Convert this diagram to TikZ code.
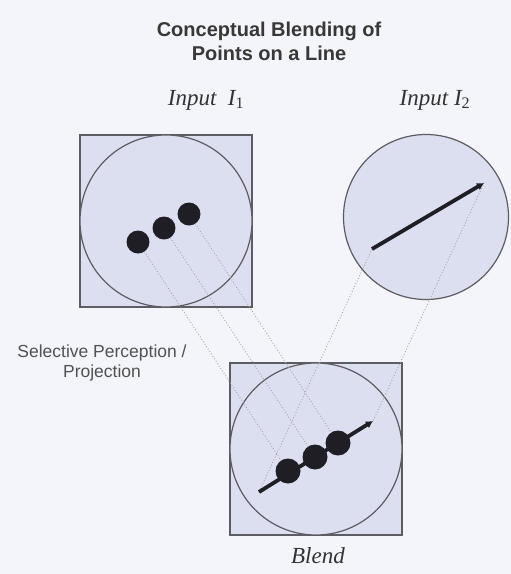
\documentclass[tikz,border=0pt]{standalone}
\usepackage{fontspec}
\setmainfont{Liberation Serif}
\setsansfont{Liberation Sans}
\usetikzlibrary{positioning,arrows.meta}

\definecolor{paper}{HTML}{F4F5FA}
\definecolor{lavender}{HTML}{DCDFF0}
\definecolor{rim}{HTML}{5C5C62}
\definecolor{ink}{HTML}{1E1E24}

\begin{document}
\begin{tikzpicture}[x=1pt,y=-1pt,
  frame/.style={draw=rim,fill=lavender,minimum size=172pt,inner sep=0pt,line width=1.2pt},
  disk/.style={draw=rim,circle,fill=lavender,inner sep=0pt,line width=1.2pt},
  dot/.style={circle,fill=ink,minimum size=23pt,inner sep=0pt},
  proj/.style={draw=gray!70,dotted,line width=0.9pt},
  segment/.style={draw=ink,line width=3.8pt,-{Latex[length=7pt,width=8pt]}},
  world/.style={font=\itshape\fontsize{23}{26}\selectfont,text=black!80},
  heading/.style={font=\sffamily\bfseries\fontsize{20}{24}\selectfont,text=black!78,align=center},
  caption/.style={font=\sffamily\fontsize{17.5}{20}\selectfont,text=black!68,align=center}]
\fill[paper] (0,0) rectangle (511,574);
\useasboundingbox (0,0) rectangle (511,574);

\node[heading] (title) at (269,41) {Conceptual Blending of\\Points on a Line};

% the two inputs and the blend
\node[frame] (in1) at (166,221) {};
\node[disk, minimum size=172pt] (c1) at (in1) {};
\node[disk, minimum size=165pt] (c2) at (426,217) {};
\node[frame] (blend) at (316,449) {};
\node[disk, minimum size=172pt] (c3) at (blend) {};

\node[world] (l1) at (206,100) {Input~ I\textsubscript{\upshape 1}};
\node[world] (l2) at (435,100) {Input I\textsubscript{\upshape 2}};
\node[world] (l3) at (318,556) {Blend};
\node[caption] (sel) at (102,363) {Selective Perception /\\Projection};

% points and line ends
\coordinate (a1) at (138,242);
\coordinate (a2) at (164,228);
\coordinate (a3) at (189,214);
\coordinate (s) at (372,249);
\coordinate (e) at (484,183);
\coordinate (b1) at (288,471);
\coordinate (b2) at (315,457);
\coordinate (b3) at (338,443);
\coordinate (bs) at (259,492);
\coordinate (be) at (373,421);

% projections
\draw[proj] (a1) -- (b1);
\draw[proj] (a2) -- (b2);
\draw[proj] (a3) -- (b3);
\draw[proj] (s) -- (bs);
\draw[proj] (e) -- (be);

\draw[segment] (s) -- (e);
\draw[segment] (bs) -- (be);

\node[dot] (p1) at (a1) {};
\node[dot] (p2) at (a2) {};
\node[dot] (p3) at (a3) {};
\node[dot, minimum size=25pt] (q1) at (b1) {};
\node[dot, minimum size=25pt] (q2) at (b2) {};
\node[dot, minimum size=25pt] (q3) at (b3) {};
\end{tikzpicture}
\end{document}
